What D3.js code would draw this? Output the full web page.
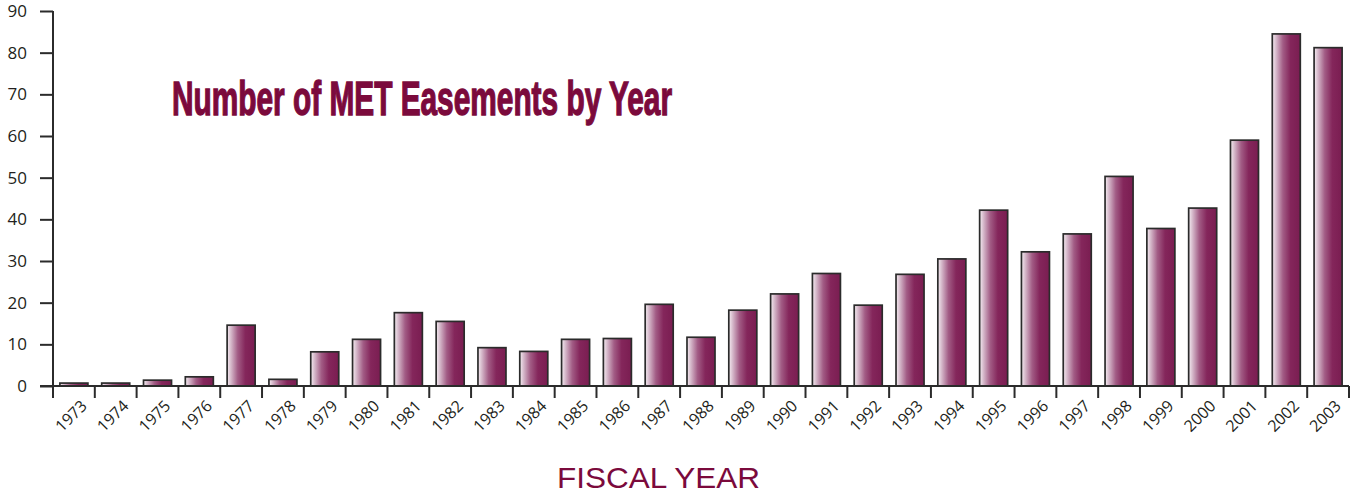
<!DOCTYPE html>
<html>
<head>
<meta charset="utf-8">
<script src="https://cdn.jsdelivr.net/npm/d3@7/dist/d3.min.js"></script>
<style>
  html, body { margin: 0; padding: 0; background: #fff; }
  svg { display: block; }
</style>
</head>
<body>
<svg id="chart" width="1360" height="494"></svg>
<script>
// Fiscal years and number of MET easements recorded in each
const years = ["1973","1974","1975","1976","1977","1978","1979","1980","1981","1982",
  "1983","1984","1985","1986","1987","1988","1989","1990","1991","1992",
  "1993","1994","1995","1996","1997","1998","1999","2000","2001","2002","2003"];
const easements = [0.7, 0.7, 1.4, 2.2, 14.6, 1.6, 8.2, 11.2, 17.6, 15.5,
  9.2, 8.3, 11.2, 11.4, 19.6, 11.7, 18.2, 22.1, 27.0, 19.4,
  26.8, 30.5, 42.2, 32.2, 36.5, 50.3, 37.8, 42.7, 59.0, 84.5, 81.2];
const yTicks = [0, 10, 20, 30, 40, 50, 60, 70, 80, 90];
const titleText = "Number of MET Easements by Year";
const xTitleText = "FISCAL YEAR";

const svg = d3.select("#chart");
const axisColor = "#2b2b2b";
const maroon = "#7b0a3c";

const plotLeft = 53, plotRight = 1349, plotTop = 11, plotBottom = 386;

const x = d3.scaleBand().domain(years).range([plotLeft, plotRight]).paddingInner(0.33).paddingOuter(0.165);
const y = d3.scaleLinear().domain([0, 90]).range([plotBottom, plotTop]);

// Bar fill: light on the left edge, deepening to maroon
const defs = svg.append("defs");
const grad = defs.append("linearGradient").attr("id", "barFill")
  .attr("x1", "0%").attr("x2", "100%").attr("y1", "0%").attr("y2", "0%");
[[0, "#f6eef3"], [0.12, "#d9bfcf"], [0.38, "#a25c85"], [0.65, "#84265b"], [1, "#7a1d51"]]
  .forEach(([o, c]) => grad.append("stop").attr("offset", o).attr("stop-color", c));

// Bars
svg.append("g").selectAll("rect").data(years).join("rect")
  .attr("x", d => x(d))
  .attr("width", x.bandwidth())
  .attr("y", (d, i) => y(easements[i]))
  .attr("height", (d, i) => y(0) - y(easements[i]))
  .attr("fill", "url(#barFill)")
  .attr("stroke", axisColor)
  .attr("stroke-width", 1.7);

// Y axis
const yAxis = svg.append("g").attr("transform", `translate(${plotLeft},0)`)
  .call(d3.axisLeft(y).tickValues(yTicks).tickSize(13).tickPadding(13).tickSizeOuter(0));
yAxis.select(".domain").remove();
yAxis.selectAll(".tick line").attr("stroke", axisColor).attr("stroke-width", 2);
yAxis.selectAll(".tick text")
  .attr("fill", "#231f20")
  .style("font-family", "'Open Sans', 'DejaVu Sans', sans-serif")
  .style("font-size", "17px");

// Axis lines
svg.append("line").attr("x1", plotLeft).attr("x2", plotLeft).attr("y1", y(90)).attr("y2", plotBottom + 12)
  .attr("stroke", axisColor).attr("stroke-width", 2);
svg.append("line").attr("x1", plotLeft - 13).attr("x2", plotRight).attr("y1", plotBottom).attr("y2", plotBottom)
  .attr("stroke", axisColor).attr("stroke-width", 2);

// Category separators below the axis
const step = x.step();
const bounds = years.map(d => x(d) - x.paddingOuter() * step).concat([plotRight]);
svg.append("g").selectAll("line").data(bounds.slice(1)).join("line")
  .attr("x1", d => d).attr("x2", d => d)
  .attr("y1", plotBottom).attr("y2", plotBottom + 12)
  .attr("stroke", axisColor).attr("stroke-width", 2);

// Rotated year labels
svg.append("g").selectAll("text").data(years).join("text")
  .attr("transform", d => `translate(${x(d) + x.bandwidth() / 2 + 10},${plotBottom + 17}) rotate(-45)`)
  .attr("text-anchor", "end")
  .attr("dy", "0.35em")
  .attr("fill", "#231f20")
  .style("font-family", "'Open Sans', 'DejaVu Sans', sans-serif")
  .style("font-size", "16px")
  .text(d => d);

// Chart title
svg.append("text")
  .attr("x", 172).attr("y", 115)
  .attr("textLength", 500).attr("lengthAdjust", "spacingAndGlyphs")
  .attr("fill", maroon)
  .attr("stroke", maroon)
  .attr("stroke-width", 1.4)
  .style("font-family", "'Liberation Sans Narrow', 'Liberation Sans', sans-serif")
  .style("font-weight", "bold")
  .style("font-size", "48px")
  .text(titleText);

// X axis title
svg.append("text")
  .attr("x", 557).attr("y", 488)
  .attr("textLength", 203).attr("lengthAdjust", "spacingAndGlyphs")
  .attr("fill", maroon)
  .style("font-family", "'Liberation Sans', Arial, sans-serif")
  .style("font-size", "30px")
  .text(xTitleText);
</script>
</body>
</html>
